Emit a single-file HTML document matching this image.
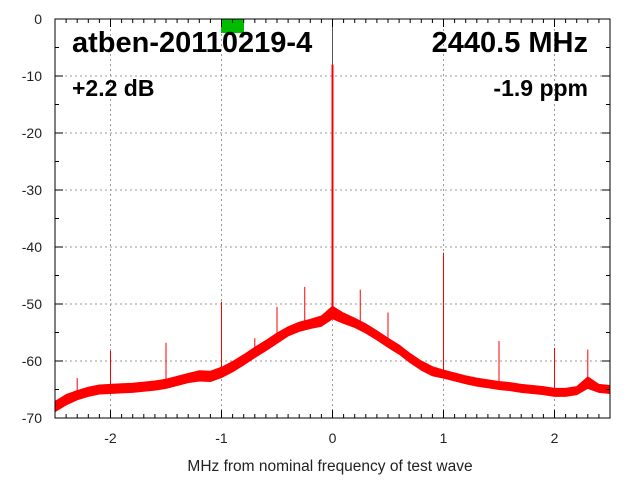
<!DOCTYPE html>
<html><head><meta charset="utf-8"><style>
body{margin:0;background:#fff}
svg{display:block;font-family:"Liberation Sans",sans-serif}
</style></head><body>
<svg id="chart" width="640" height="480">
<g id="grid"></g>
<g id="marks"></g>
<rect x="221" y="19" width="23" height="14" fill="#00bb00"/>
<rect x="55" y="19" width="555" height="399" fill="none" stroke="#000" stroke-width="1"/>
<g id="ticks"></g>
<text x="72" y="52" font-size="29" font-weight="bold">atben-20110219-4</text>
<text x="588" y="52" font-size="29" font-weight="bold" text-anchor="end">2440.5 MHz</text>
<text x="72" y="96" font-size="23" font-weight="bold">+2.2 dB</text>
<text x="588" y="96" font-size="23" font-weight="bold" text-anchor="end">-1.9 ppm</text>
<text x="330" y="471" font-size="15.5" text-anchor="middle" fill="#222">MHz from nominal frequency of test wave</text>
</svg>
<script>
const xTicks=[-2,-1,0,1,2];
const yTicks=[0,-10,-20,-30,-40,-50,-60,-70];
const freqs=[-2.5,-2.4,-2.3,-2.2,-2.1,-2.0,-1.9,-1.8,-1.7,-1.6,-1.5,-1.4,-1.3,-1.2,-1.1,-1.0,-0.9,-0.8,-0.7,-0.6,-0.5,-0.4,-0.3,-0.2,-0.1,0,0.1,0.2,0.3,0.4,0.5,0.6,0.7,0.8,0.9,1.0,1.1,1.2,1.3,1.4,1.5,1.6,1.7,1.8,1.9,2.0,2.1,2.2,2.3,2.4,2.5];
const levels=[-68,-66.8,-66,-65.4,-65,-64.9,-64.8,-64.7,-64.5,-64.3,-64,-63.5,-63,-62.6,-62.7,-62,-61,-59.8,-58.5,-57.3,-56,-54.8,-54,-53.5,-53,-51.5,-52.5,-53.3,-54.3,-55.5,-56.8,-58,-59.5,-60.8,-61.8,-62.3,-62.8,-63.3,-63.7,-64,-64.3,-64.5,-64.8,-65,-65.2,-65.5,-65.5,-65.2,-63.8,-64.8,-65];
const spread=[0.9,0.9,0.8,0.8,0.8,0.8,0.8,0.8,0.8,0.8,0.8,0.8,0.8,0.9,0.9,0.9,0.9,0.9,0.9,0.9,0.9,0.8,0.8,0.8,0.9,1.1,0.9,0.8,0.8,0.8,0.8,0.8,0.8,0.8,0.8,0.7,0.7,0.7,0.7,0.7,0.7,0.7,0.7,0.7,0.7,0.7,0.7,0.7,1.0,0.7,0.7];
const spikeF=[-2.3,-2.0,-1.5,-1.0,-0.7,-0.5,-0.25,0,0.25,0.5,1.0,1.5,2.0,2.3];
const spikeV=[-63,-58.2,-56.8,-49.6,-56,-50.5,-47,-8,-47.5,-51.5,-41,-56.5,-57.7,-58];
const X=f=>55+(f+2.5)*111;
const Y=v=>19-v*(399/70);
const NS="http://www.w3.org/2000/svg";
function mk(tag,attrs,parent){const e=document.createElementNS(NS,tag);for(const k in attrs)e.setAttribute(k,attrs[k]);parent.appendChild(e);return e;}
function levelAt(f){for(let i=0;i<freqs.length-1;i++){if(f>=freqs[i]&&f<=freqs[i+1]){const t=(f-freqs[i])/(freqs[i+1]-freqs[i]);return levels[i]+(levels[i+1]-levels[i])*t;}}return levels[0];}
const grid=document.getElementById('grid'),ticks=document.getElementById('ticks'),marks=document.getElementById('marks');
xTicks.forEach(t=>{
 const l=mk('line',{x1:X(t),x2:X(t),y1:19,y2:418,stroke:'#999','stroke-dasharray':'2,3'},grid);
 
 
 const tx=mk('text',{x:X(t),y:443,'font-size':14,'text-anchor':'middle',fill:'#222'},ticks);
 tx.textContent=t;
 
 
});
for(let i=-25;i<=25;i++){const x=X(i/10),len=(i%10===0)?8:4;
 mk('line',{x1:x,x2:x,y1:418,y2:418-len,stroke:'#000'},ticks);
 mk('line',{x1:x,x2:x,y1:19,y2:19+len,stroke:'#000'},ticks);}
yTicks.forEach(t=>{
 if(t!==0&&t!==-70){const l=mk('line',{x1:55,x2:610,y1:Y(t),y2:Y(t),stroke:'#999','stroke-dasharray':'2,3'},grid);
 
 }
 const tx=mk('text',{x:42,y:Y(t)+5,'font-size':14,'text-anchor':'end',fill:'#222'},ticks);
 tx.textContent=t;
 
 
});
for(let v=0;v>=-70;v-=5){const y=Y(v),len=(v%10===0)?8:4;
 mk('line',{x1:55,x2:55+len,y1:y,y2:y,stroke:'#000'},ticks);
 mk('line',{x1:610,x2:610-len,y1:y,y2:y,stroke:'#000'},ticks);}
let up=freqs.map((f,i)=>X(f)+','+Y(levels[i]+spread[i])).join(' ');
let dn=freqs.map((f,i)=>X(f)+','+Y(levels[i]-spread[i])).reverse().join(' ');
const band=mk('polygon',{points:up+' '+dn,fill:'#ff0000',stroke:'#ff0000','stroke-width':1,'stroke-linejoin':'round'},marks);


const carrier=mk('line',{x1:X(0),x2:X(0),y1:19,y2:Y(-50),stroke:'#555','stroke-width':1},marks);


spikeF.forEach((f,i)=>{
 const s=mk('line',{x1:X(f),x2:X(f),y1:Y(spikeV[i]),y2:Y(levelAt(f)),stroke:'#ff0000','stroke-width':f===0?2:1},marks);
 
 
});
</script>
</body></html>
